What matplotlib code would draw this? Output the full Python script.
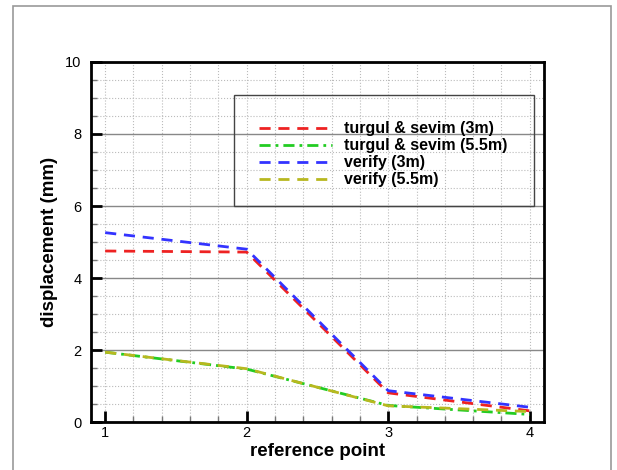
import matplotlib
matplotlib.use("Agg")
import matplotlib.pyplot as plt
from matplotlib.ticker import MultipleLocator
from matplotlib.patches import Rectangle

plt.rcParams['font.family'] = ['Liberation Sans', 'DejaVu Sans']

reference_points = [1, 2, 3, 4]
turgul_3m = [4.75, 4.72, 0.81, 0.31]
turgul_55m = [1.94, 1.47, 0.46, 0.21]
verify_3m = [5.26, 4.80, 0.87, 0.41]
verify_55m = [1.94, 1.48, 0.45, 0.29]
series_labels = ["turgul & sevim (3m)", "turgul & sevim (5.5m)", "verify (3m)", "verify (5.5m)"]
y_ticks = [0, 2, 4, 6, 8, 10]
x_ticks = [1, 2, 3, 4]

fig = plt.figure(figsize=(6.17, 4.70), dpi=100)
ax = fig.add_axes([0.1475, 0.1021, 0.734, 0.766])

# outer gray frame
fig.patches.append(Rectangle((0.021, -0.05), 0.969, 1.037, transform=fig.transFigure,
                             fill=False, edgecolor='#999999', lw=1.2))

ax.plot(reference_points, turgul_3m, color='#ee2222', lw=2, ls=(0, (4, 2.8)), label=series_labels[0])
ax.plot(reference_points, turgul_55m, color='#22cc22', lw=2, ls=(0, (4, 1.8, 1, 1.8)), label=series_labels[1])
ax.plot(reference_points, verify_3m, color='#3333ff', lw=2, ls=(0, (4, 2.8)), label=series_labels[2])
ax.plot(reference_points, verify_55m, color='#b8b820', lw=2, ls=(0, (4, 2.8)), label=series_labels[3])

ax.set_xlim(0.9, 4.1)
ax.set_ylim(0, 10)
ax.set_xticks(x_ticks)
ax.set_yticks(y_ticks)
ax.xaxis.set_minor_locator(MultipleLocator(0.2))
ax.yaxis.set_minor_locator(MultipleLocator(0.5))

ax.grid(which='major', axis='y', color='#888888', lw=1, ls='-')
ax.grid(which='minor', axis='y', color='#bbbbbb', lw=0.8, ls=':')
ax.grid(which='both', axis='x', color='#bbbbbb', lw=0.8, ls=':')
ax.set_axisbelow(True)

for s in ax.spines.values():
    s.set_linewidth(2)
ax.tick_params(which='major', direction='in', length=8, width=2, labelsize=10.5, pad=4)
ax.tick_params(which='minor', direction='in', length=4, width=1, color='#777777')
ax.tick_params(axis='y', which='major', pad=7)
ax.tick_params(axis='x', which='major', pad=3)

ax.set_xlabel("reference point", fontsize=13.5, fontweight='bold', labelpad=2)
ax.set_ylabel("displacement (mm)", fontsize=13.5, fontweight='bold', labelpad=5)

ax.add_patch(Rectangle((0.316, 0.6), 0.662, 0.308, transform=ax.transAxes,
                       fill=False, edgecolor='#444444', lw=1, zorder=3))
leg = ax.legend(loc='upper left', bbox_to_anchor=(0.37, 0.835), frameon=False,
                borderpad=0, borderaxespad=0, handlelength=4.6, handletextpad=0.75,
                labelspacing=0.12, prop={'size': 11.5, 'weight': 'bold'})

fig.savefig("out.png", dpi=100)
